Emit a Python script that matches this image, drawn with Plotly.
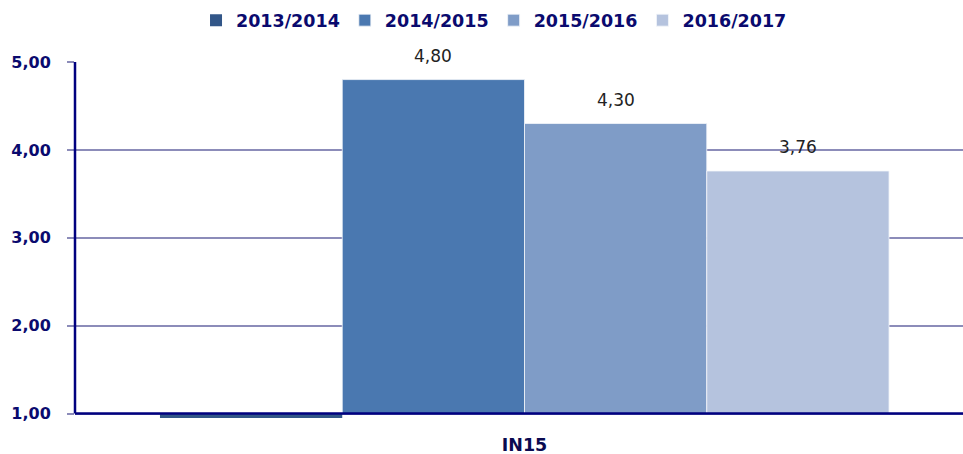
import plotly.graph_objects as go

categories = ["IN15"]
series_names = ["2013/2014", "2014/2015", "2015/2016", "2016/2017"]
series_values = [0.95, 4.80, 4.30, 3.76]
colors = ["#325688", "#4A78B0", "#7F9CC7", "#B5C3DE"]
y_ticks = [1, 2, 3, 4, 5]
y_tick_labels = ["1,00", "2,00", "3,00", "4,00", "5,00"]
axis_min = 1.0
axis_bottom = 0.95
bargap = 0.179

fig = go.Figure()
n = len(series_names)
bar_w = (1 - bargap) / n
for i, (name, val, col) in enumerate(zip(series_names, series_values, colors)):
    fig.add_trace(go.Bar(
        name=name, x=categories, y=[val - axis_min], base=[axis_min],
        marker=dict(color=col, line=dict(color="#F4F6FA", width=0.8 if val >= axis_min else 0)),
        hovertemplate=name + ": " + f"{val:.2f}" + "<extra></extra>",
    ))
    if val >= axis_min:
        fig.add_annotation(
            x=(i - (n - 1) / 2) * bar_w, y=val, xref="x", yref="y",
            text=f"{val:.2f}".replace(".", ","), showarrow=False,
            yanchor="bottom", yshift=12,
            font=dict(family="DejaVu Sans", size=17, color="#222222"),
        )

fig.add_shape(type="line", xref="paper", yref="y", x0=0, x1=1, y0=axis_min, y1=axis_min,
              line=dict(color="#00007F", width=2.5), layer="above")
fig.add_shape(type="line", xref="paper", yref="y", x0=0, x1=0, y0=axis_min, y1=5,
              line=dict(color="#00007F", width=2.5), layer="above")

fig.update_layout(
    width=963, height=454,
    margin=dict(l=75, r=0, t=62, b=36),
    paper_bgcolor="white", plot_bgcolor="white",
    barmode="group", bargap=bargap, bargroupgap=0,
    showlegend=True,
    legend=dict(orientation="h", xref="container", yref="container",
                x=0.513, xanchor="center", y=0.995, yanchor="top",
                font=dict(family="DejaVu Sans", size=17.5, color="#0A0A6E", weight="bold"),
                itemwidth=30, traceorder="normal"),
    xaxis=dict(range=[-0.5062, 0.4938], showline=False, showgrid=False, ticks="",
               tickfont=dict(family="DejaVu Sans", size=17.5, color="#0A0A50", weight="bold"),
               ticklabelstandoff=14),
    yaxis=dict(range=[axis_bottom, 5], tickvals=y_ticks, ticktext=y_tick_labels,
               showgrid=True, gridcolor="#8C8CB9", gridwidth=2,
               ticks="outside", ticklen=7, tickcolor="#8C8CB9", tickwidth=2,
               showline=False, zeroline=False,
               tickfont=dict(family="DejaVu Sans", size=16, color="#0A0A6E", weight="bold"),
               ticklabelstandoff=13),
)

fig.write_html("out.html")
